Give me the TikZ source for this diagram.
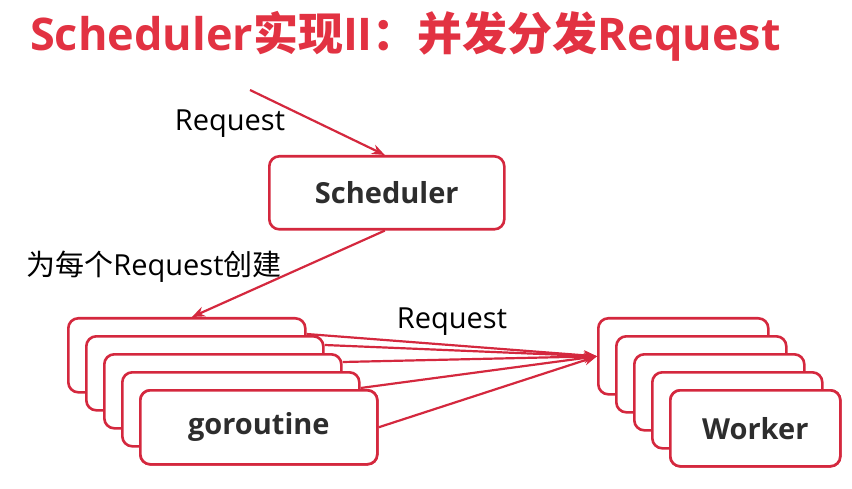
\documentclass[tikz,border=0pt]{standalone}
\usepackage{fontspec}
\setmainfont{Open Sans}
\newfontfamily\cjk{Noto Sans CJK SC}
\usetikzlibrary{arrows.meta,calc,backgrounds}
\definecolor{titlered}{RGB}{226,50,66}
\definecolor{linered}{RGB}{212,40,62}
\definecolor{boxtext}{RGB}{45,45,45}
\begin{document}
\begin{tikzpicture}[x=1pt,y=-1pt,
 box/.style={draw=linered, line width=2.6pt, fill=white, rounded corners=10pt,
   minimum width=237pt, minimum height=74pt, anchor=north west, inner sep=0pt,
   font=\fontsize{29}{32}\selectfont\bfseries, text=boxtext},
 wbox/.style={box, minimum width=170pt, minimum height=76pt},
 conn/.style={draw=linered, line width=2.2pt, -{Stealth[length=13pt,width=10pt]}},
 lbl/.style={font=\fontsize{29}{32}\selectfont, inner sep=0pt, text=black}]
\useasboundingbox (0,0) rectangle (852,489);

\node[font=\fontsize{45}{48}\selectfont\bfseries, text=titlered, anchor=west, inner sep=0pt]
  (title) at (30,36) {Scheduler{\cjk 实现}II{\cjk ：并发分发}Request};

\node[box, minimum width=235pt, minimum height=73pt] (sched) at (268,155) {Scheduler};

\foreach \i in {0,...,4}{
  \node[box] (g\i) at (67+18*\i, 317+18*\i) {};
}
\node[box] at (g4.north west) {goroutine};

\foreach \i in {0,...,4}{
  \node[wbox] (w\i) at (597+18*\i, 317+18*\i) {};
}
\node[wbox] at (w4.north west) {Worker};

\coordinate (src) at (250,90);

\node[lbl] (l1) at (230,124) {Request};
\node[lbl] (l2) at (154,267) {{\cjk 为每个}Request{\cjk 创建}};
\node[lbl] (l3) at (452,322) {Request};

\begin{pgfonlayer}{background}
\draw[conn] (src) -- ([xshift=-2pt]sched.north);
\draw[conn] ([xshift=-2pt]sched.south) -- ([xshift=5pt]g0.north);
\draw[conn] ($(g0.north east)+(0,17)$) -- (w0.west);
\draw[conn] ($(g1.north east)+(0,10)$) -- (w0.west);
\draw[conn] ($(g2.north east)+(0,9)$) -- (w0.west);
\draw[conn] ($(g3.north east)+(0,17)$) -- (w0.west);
\draw[conn] (g4.east) -- (w0.west);
\end{pgfonlayer}
\end{tikzpicture}
\end{document}
